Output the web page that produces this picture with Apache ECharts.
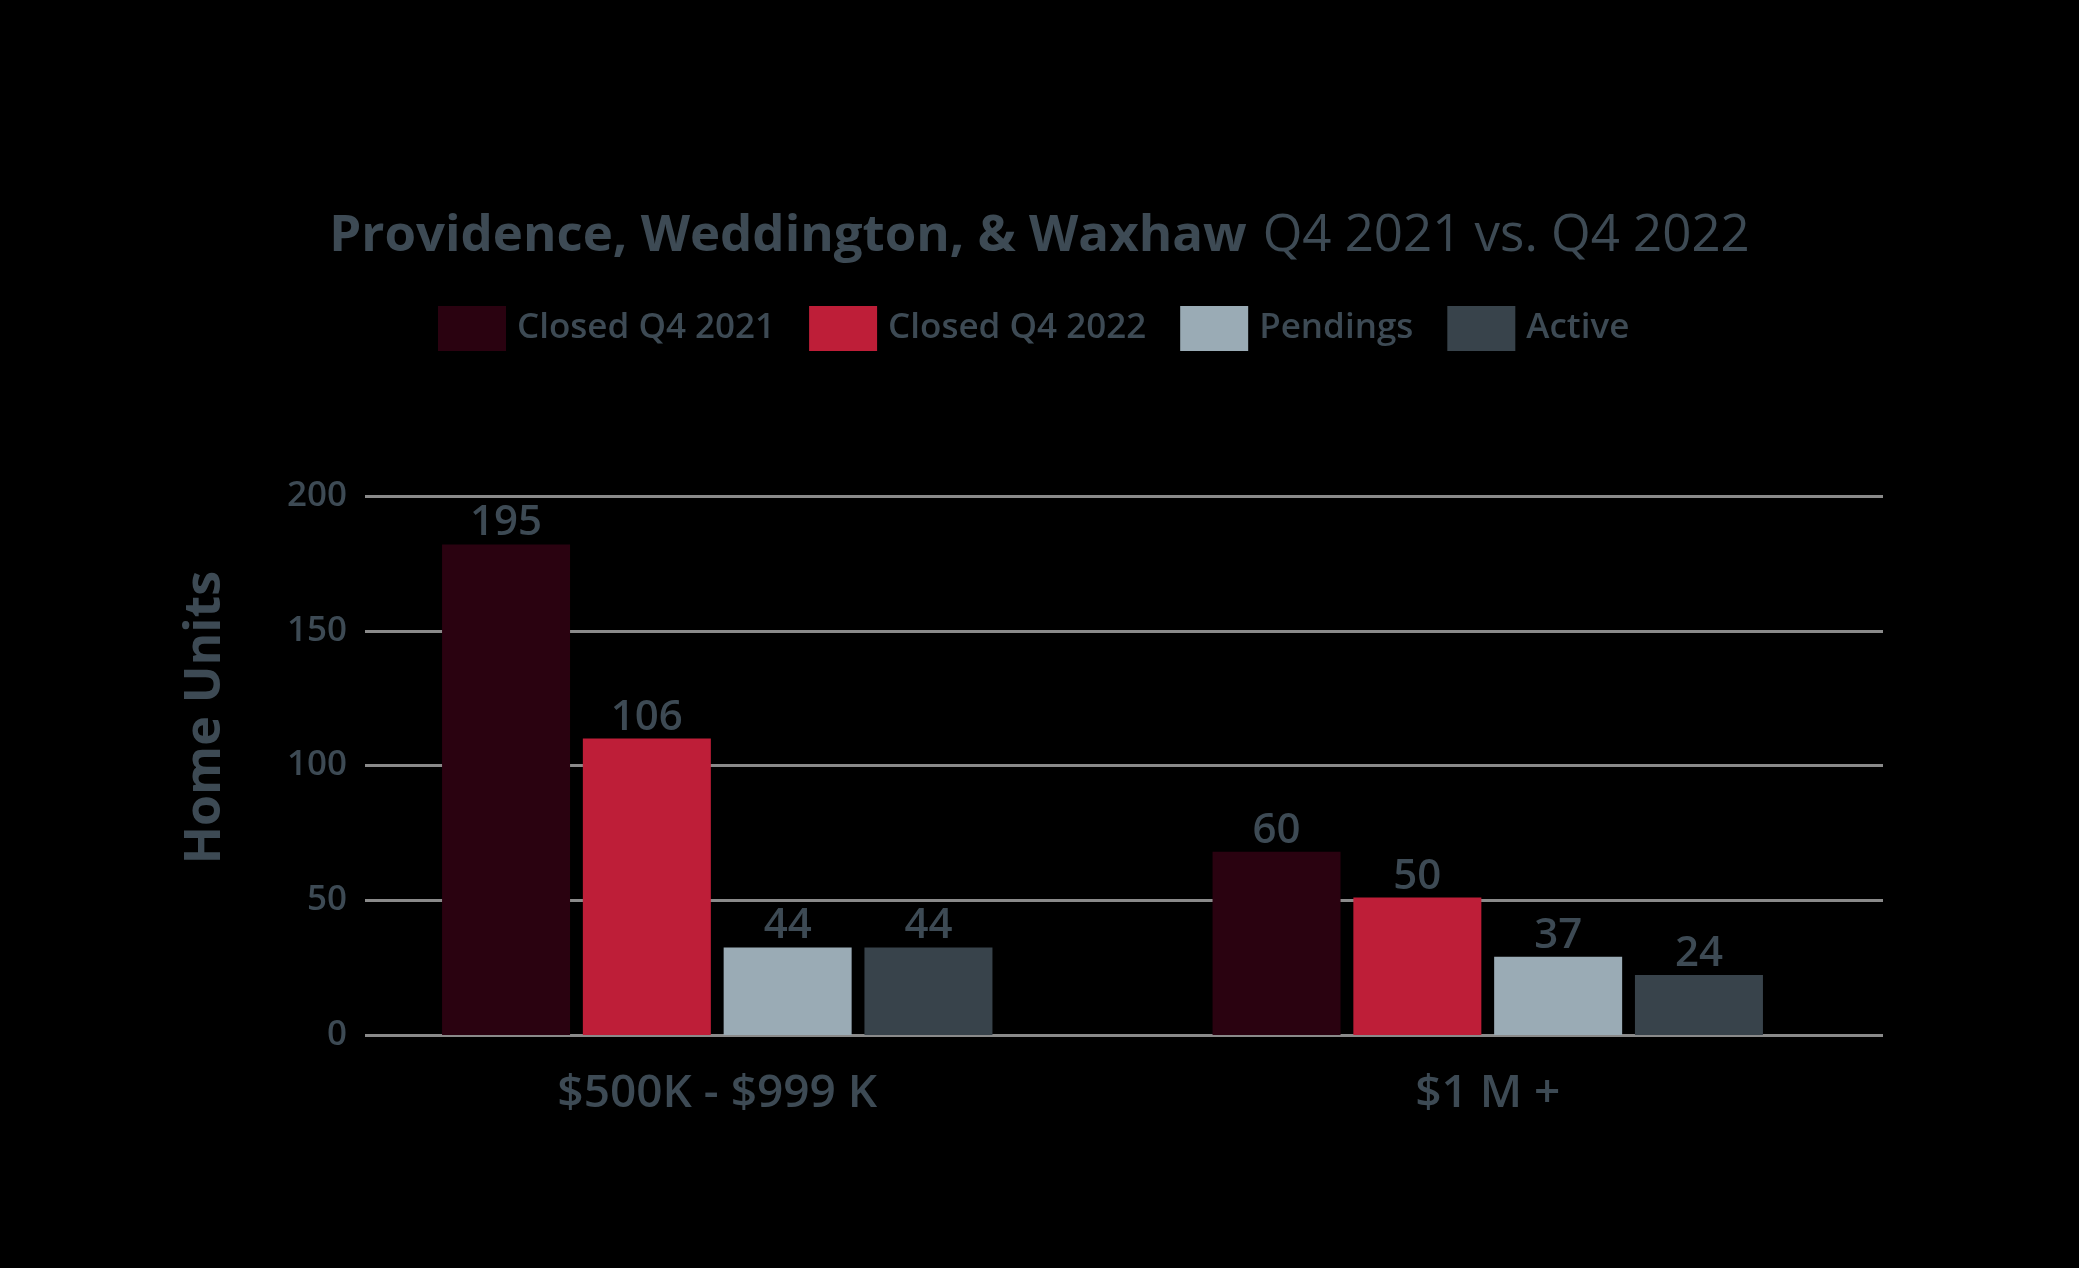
<!DOCTYPE html>
<html><head><meta charset="utf-8">
<script src="https://cdn.jsdelivr.net/npm/echarts@6/dist/echarts.min.js"></script>
<style>html,body{margin:0;padding:0;background:#000;}#c{width:2079px;height:1268px;}</style>
</head><body><div id="c"></div>
<script>
const categories = ['$500K - $999 K', '$1 M +'];
const seriesNames = ['Closed Q4 2021', 'Closed Q4 2022', 'Pendings', 'Active'];
const colors = ['#2a0210', '#be1e38', '#9aabb5', '#38434b'];
// bar heights as drawn in the picture
const closed2021 = [182, 68];
const closed2022 = [110, 51];
const pendings = [32.5, 29];
const active = [32.5, 22.3];
// value labels as printed
const labels2021 = [195, 60];
const labels2022 = [106, 50];
const labelsPend = [44, 37];
const labelsActive = [44, 24];
const yTicks = [0, 50, 100, 150, 200];

const barData = [closed2021, closed2022, pendings, active];
const labelData = [labels2021, labels2022, labelsPend, labelsActive];
const txt = '#3d4a54';
const font = 'Open Sans';

const chart = echarts.init(document.getElementById('c'));
chart.setOption({
  backgroundColor: '#000',
  title: {
    text: '{b|Providence, Weddington, & Waxhaw}{r|Q4 2021 vs. Q4 2022}',
    left: 'center', top: 206,
    textStyle: {
      rich: {
        b: {fontFamily: font, fontWeight: 'bold', fontSize: 51, color: txt, padding: [0, 16, 0, 0]},
        r: {fontFamily: font, fontWeight: 500, fontSize: 51, color: txt}
      }
    }
  },
  legend: {
    top: 301, left: 433,
    itemWidth: 68, itemHeight: 45, itemGap: 34,
    icon: 'rect',
    textStyle: {fontFamily: font, fontWeight: 600, fontSize: 35, color: txt, padding: [0, 0, 0, 6]},
    data: seriesNames
  },
  grid: [
    {left: 365, right: 196, top: 496, bottom: 233},
    {left: 332, right: 206, top: 496, bottom: 233}
  ],
  xAxis: [
    {gridIndex: 0, type: 'category', data: categories, show: false},
    {gridIndex: 1, type: 'category', data: categories,
     axisLine: {show: false}, axisTick: {show: false},
     axisLabel: {fontFamily: font, fontWeight: 600, fontSize: 46, color: txt, margin: 36}}
  ],
  yAxis: [
    {gridIndex: 0, type: 'value', min: 0, max: 200, interval: 50,
     name: 'Home Units', nameLocation: 'middle', nameGap: 134,
     nameTextStyle: {fontFamily: font, fontWeight: 'bold', fontSize: 50, color: txt, padding: [0, 0, 0, 96]},
     axisLine: {show: false}, axisTick: {show: false},
     axisLabel: {fontFamily: font, fontWeight: 600, fontSize: 35, color: txt, margin: 18,
       padding: [0, 0, 10, 0],
       formatter: v => yTicks.includes(v) ? String(v) : ''},
     splitLine: {lineStyle: {color: '#8a8a8a', width: 3}}},
    {gridIndex: 1, type: 'value', min: 0, max: 200, interval: 50, show: false,
     splitLine: {show: false}}
  ],
  series: seriesNames.map((name, i) => ({
    name, type: 'bar', xAxisIndex: 1, yAxisIndex: 1,
    barWidth: 128, barGap: '10%',
    itemStyle: {color: colors[i]},
    label: {show: true, position: 'top', distance: 0,
      fontFamily: font, fontWeight: 600, fontSize: 42, color: txt,
      formatter: p => String(labelData[i][p.dataIndex])},
    data: barData[i]
  }))
});
</script></body></html>
